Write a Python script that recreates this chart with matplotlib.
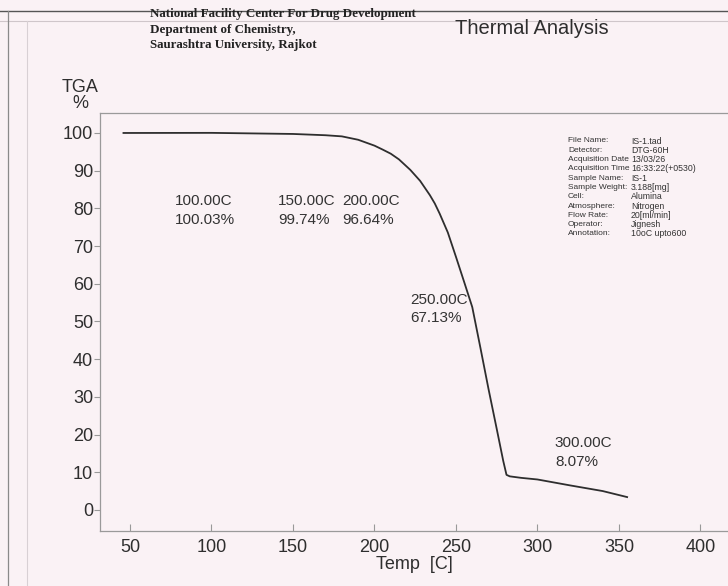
import matplotlib
matplotlib.use("Agg")
import matplotlib.pyplot as plt
from matplotlib.lines import Line2D

# TGA curve
temp = [46, 100, 150, 170, 180, 190, 200, 205, 210, 215, 222, 228, 234, 237, 240, 245,
        250, 255, 260, 265, 270, 275, 279, 281, 283, 290, 300, 320, 340, 355]
tga = [100.0, 100.03, 99.74, 99.4, 99.1, 98.2, 96.64, 95.6, 94.5, 93.0, 90.2, 87.3, 83.5, 81.3, 78.6, 73.6,
       67.13, 60.5, 53.8, 43.0, 32.0, 21.5, 13.0, 9.3, 8.9, 8.5, 8.07, 6.5, 5.0, 3.4]

# point labels printed on the chart
mark_text = [("100.00C", "100.03%"), ("150.00C", "99.74%"), ("200.00C", "96.64%"),
             ("250.00C", "67.13%"), ("300.00C", "8.07%")]
mark_pos = [(77.6, 79.5), (141, 79.5), (180, 79.5), (222, 53.3), (310.7, 15.3)]

x_ticks = [50, 100, 150, 200, 250, 300, 350, 400]
y_ticks = [0, 10, 20, 30, 40, 50, 60, 70, 80, 90, 100]

info_keys = ["File Name:", "Detector:", "Acquisition Date", "Acquisition Time", "Sample Name:",
             "Sample Weight:", "Cell:", "Atmosphere:", "Flow Rate:", "Operator:", "Annotation:"]
info_vals = ["IS-1.tad", "DTG-60H", "13/03/26", "16:33:22(+0530)", "IS-1",
             "3.188[mg]", "Alumina", "Nitrogen", "20[ml/min]", "Jignesh", "10oC upto600"]

bg = "#faf2f5"
ink = "#2e2e2e"
plt.rcParams["font.family"] = ["Liberation Sans", "DejaVu Sans"]

fig = plt.figure(figsize=(7.28, 5.86), dpi=100, facecolor=bg)
ax = fig.add_axes([100 / 728, 1 - 531 / 586, 1 - 100 / 728, (531 - 113) / 586])
ax.set_facecolor(bg)

ax.plot(temp, tga, color=ink, lw=1.3)

for (t1, t2), (px, py) in zip(mark_text, mark_pos):
    ax.text(px, py, t1 + "\n" + t2, fontsize=11, color="#333333",
            ha="left", va="center", linespacing=1.45)

ax.set_xlim(31.6, 416.9)
ax.set_ylim(-5.6, 105.3)
ax.set_xticks(x_ticks)
ax.set_yticks(y_ticks)
ax.tick_params(axis="x", direction="in", length=5, color="#999999", labelsize=13,
               labelcolor=ink, pad=6)
ax.tick_params(axis="y", direction="out", length=4, color="#999999", labelsize=13,
               labelcolor=ink, pad=1)
for side in ["left", "bottom", "top"]:
    ax.spines[side].set_color("#9a9a9a")
    ax.spines[side].set_linewidth(0.9)
ax.spines["right"].set_visible(False)
ax.set_xlabel("Temp  [C]", fontsize=13, color=ink, labelpad=0)

# axis title at the top left
fig.text(80 / 728, 1 - 88 / 586, "TGA", fontsize=13, color=ink, ha="center", va="center")
fig.text(80 / 728, 1 - 104 / 586, "%", fontsize=13, color=ink, ha="center", va="center")

# header block
header = "National Facility Center For Drug Development\nDepartment of Chemistry,\nSaurashtra University, Rajkot"
fig.text(150 / 728, 1 - 8 / 586, header, fontsize=9.4, fontweight="bold", color="#222222",
         family="Liberation Serif", ha="left", va="top", linespacing=1.4)
fig.text(455 / 728, 1 - 28 / 586, "Thermal Analysis", fontsize=14.5, color=ink,
         ha="left", va="center")

# info block on the right
for i, (k, v) in enumerate(zip(info_keys, info_vals)):
    y = 1 - (141 + i * 9.3) / 586
    fig.text(568 / 728, y, k, fontsize=6.0, color="#333333", ha="left", va="center")
    fig.text(631 / 728, y, v, fontsize=6.3, color="#333333", ha="left", va="center")

# page edges from the scan
fig.add_artist(Line2D([0, 1], [1 - 11 / 586, 1 - 11 / 586], color="#555555", lw=1.0))
fig.add_artist(Line2D([0, 1], [1 - 21 / 586, 1 - 21 / 586], color="#cfc6ca", lw=0.8))
fig.add_artist(Line2D([8 / 728, 8 / 728], [0, 1 - 11 / 586], color="#8a8a8a", lw=0.9))
fig.add_artist(Line2D([27 / 728, 27 / 728], [0, 1 - 21 / 586], color="#d8d0d4", lw=0.8))

fig.savefig("out.png", dpi=100, facecolor=bg)
